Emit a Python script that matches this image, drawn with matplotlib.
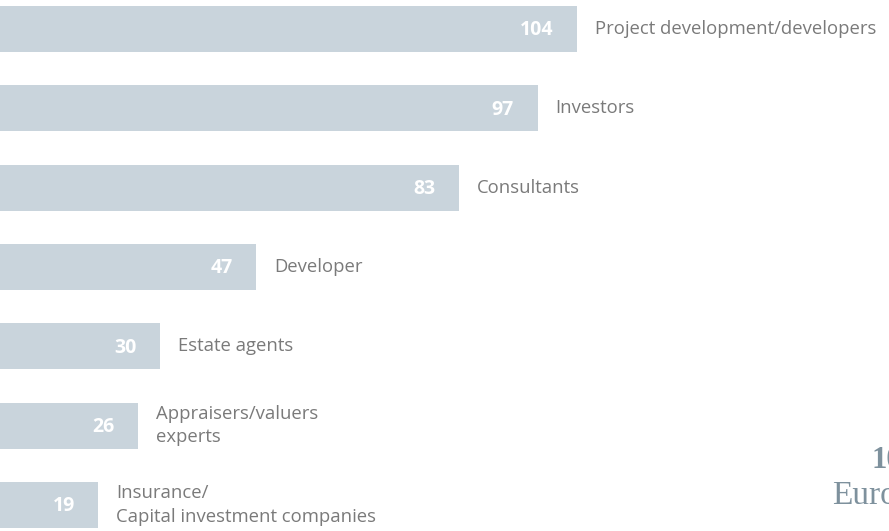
import matplotlib
matplotlib.use("Agg")
import matplotlib.pyplot as plt

categories = [
    "Project development/developers",
    "Investors",
    "Consultants",
    "Developer",
    "Estate agents",
    "Appraisers/valuers\nexperts",
    "Insurance/\nCapital investment companies",
]
values = [104, 97, 83, 47, 30, 26, 19]

bar_color = "#c9d4dc"
label_color = "#7a7a7a"
side_color = "#7e919d"

fig = plt.figure(figsize=(8.89, 5.31), dpi=100)
ax = fig.add_axes([0, 0, 1, 1])
ypos = list(range(len(values)))
ax.barh(ypos, values, height=0.58, color=bar_color, left=0)
ax.set_xlim(1.53, 159.4)
ax.set_ylim(6.33, -0.366)
ax.axis("off")

font = ["Open Sans", "DejaVu Sans"]
for y, v, c in zip(ypos, values, categories):
    ax.annotate(str(v), xy=(v, y), xytext=(-17, -1), textcoords="offset points",
                ha="right", va="center", color="white", fontweight="bold",
                fontsize=14, family=font)
    ax.annotate(c, xy=(v, y), xytext=(13, 0), textcoords="offset points",
                ha="left", va="center", color=label_color, fontsize=13.3,
                family=font, linespacing=1.4)

fig.text(872 / 889, 1 - 468 / 531, "10", ha="left", va="baseline",
         color=side_color, fontsize=22, fontweight="bold", family="Liberation Serif")
fig.text(832 / 889, 1 - 504 / 531, "Euro", ha="left", va="baseline",
         color=side_color, fontsize=24, family="Liberation Serif")

fig.savefig("out.png", dpi=100)
